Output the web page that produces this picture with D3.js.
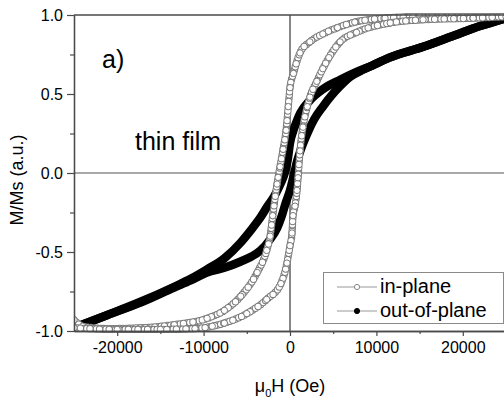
<!DOCTYPE html>
<html><head><meta charset="utf-8">
<script src="https://cdn.jsdelivr.net/npm/d3@7"></script>
<style>body{margin:0;background:#fff}svg text{font-family:Arial,"Liberation Sans",sans-serif;fill:#000}</style>
</head><body><svg id="c" width="504" height="401"></svg>
<script>
// ---- data ----
const ipDescH=[-25000,-24000,-21000,-17300,-13400,-9600,-7600,-5700,-3800,-2700,-2300,-2000,-1500,-1150,-800,-450,-200,0,400,1160,2300,3800,5500,7500,11000,15000,20000,25000];
const ipDescM=[-0.93,-0.97,-0.985,-0.98,-0.96,-0.92,-0.87,-0.78,-0.63,-0.49,-0.40,-0.27,-0.07,0.04,0.15,0.27,0.42,0.54,0.63,0.76,0.83,0.88,0.92,0.955,0.98,0.99,0.99,0.99];
const ipAscH=[-25000,-20000,-15000,-11000,-9000,-7600,-5000,-2700,-1050,-350,0,230,350,580,810,930,1160,1500,2000,2300,3100,3800,4500,5800,7700,11600,15400,21200,25000];
const ipAscM=[-0.98,-0.99,-0.99,-0.985,-0.97,-0.95,-0.89,-0.80,-0.70,-0.57,-0.46,-0.38,-0.27,-0.21,-0.11,-0.03,0.14,0.29,0.42,0.48,0.58,0.66,0.73,0.83,0.89,0.95,0.97,0.98,0.99];
const oopDescH=[-25000,-21200,-17300,-13400,-11500,-9600,-7600,-5700,-4500,-3400,-2600,-1850,-1200,-800,-500,-250,0,400,800,1200,2300,3800,5800,7700,9500,11500,15500,19000,22000,25000];
const oopDescM=[-0.98,-0.90,-0.815,-0.72,-0.67,-0.61,-0.54,-0.44,-0.36,-0.28,-0.21,-0.15,-0.08,-0.03,0.02,0.09,0.19,0.27,0.33,0.38,0.46,0.53,0.59,0.64,0.68,0.73,0.80,0.87,0.93,0.98];
const oopAscH=[-25000,-21200,-17300,-13400,-11500,-9600,-7600,-5700,-4500,-3400,-2300,-1500,-1000,-500,0,500,800,1200,2000,2800,3800,4800,5800,7000,8500,9500,11500,15500,19000,22000,25000];
const oopAscM=[-0.98,-0.90,-0.82,-0.725,-0.68,-0.63,-0.60,-0.56,-0.53,-0.49,-0.42,-0.35,-0.28,-0.19,-0.11,0.0,0.07,0.14,0.25,0.34,0.42,0.49,0.55,0.61,0.655,0.68,0.73,0.80,0.87,0.93,0.98];
const xMajorTicks=[-20000,-10000,0,10000,20000];
const xMinorTicks=[-15000,-5000,5000,15000];
const yMajorTicks=[-1.0,-0.5,0.0,0.5,1.0];
const yMinorTicks=[-0.75,-0.25,0.25,0.75];
const legendLabels=["in-plane","out-of-plane"];

const svg=d3.select("#c");
const x=d3.scaleLinear().domain([-25000,25000]).range([74,506]);
const y=d3.scaleLinear().domain([-1,1]).range([331,15]);
const axisCol="#4a4a4a";

svg.append("defs").append("clipPath").attr("id","clip")
  .append("rect").attr("x",74).attr("y",8).attr("width",440).attr("height",330);

// zero lines
svg.append("line").attr("x1",74).attr("x2",506).attr("y1",y(0)).attr("y2",y(0)).attr("stroke","#555").attr("stroke-width",1.2);
svg.append("line").attr("x1",x(0)).attr("x2",x(0)).attr("y1",15).attr("y2",331).attr("stroke","#111").attr("stroke-width",1);

const zip=(H,M)=>H.map((h,i)=>({h:h,m:M[i]}));
const line=d3.line().x(d=>x(d.h)).y(d=>y(d.m)).curve(d3.curveMonotoneX);
const plot=svg.append("g").attr("clip-path","url(#clip)");

// out-of-plane: dense filled markers -> thick black band
[zip(oopDescH,oopDescM),zip(oopAscH,oopAscM)].forEach(b=>{
  plot.append("path").attr("d",line(b)).attr("fill","none").attr("stroke","#000")
    .attr("stroke-width",8.5).attr("stroke-linecap","round").attr("stroke-linejoin","round");
});
// in-plane: dense open circles drawn along the branch
const sp=3.2, K=3;
[zip(ipDescH,ipDescM),zip(ipAscH,ipAscM)].forEach(b=>{
  const d=line(b);
  for(let k=0;k<K;k++){
    const da="0 "+(sp*K);
    plot.append("path").attr("d",d).attr("fill","none").attr("stroke","#7a7a7a")
      .attr("stroke-width",7.4).attr("stroke-linecap","round").attr("stroke-dasharray",da).attr("stroke-dashoffset",-k*sp);
    plot.append("path").attr("d",d).attr("fill","none").attr("stroke","#fff")
      .attr("stroke-width",5.4).attr("stroke-linecap","round").attr("stroke-dasharray",da).attr("stroke-dashoffset",-k*sp);
  }
  plot.selectAll(null).data(b).enter().append("circle").attr("cx",d=>x(d.h)).attr("cy",d=>y(d.m))
    .attr("r",3.2).attr("fill","#fff").attr("stroke","#7a7a7a").attr("stroke-width",1);
});

// frame: top border
svg.append("line").attr("x1",74).attr("x2",506).attr("y1",15).attr("y2",15).attr("stroke",axisCol).attr("stroke-width",1.3);

// axes
function styleAxis(g){g.select(".domain").attr("stroke",axisCol).attr("stroke-width",1.3);g.selectAll(".tick line").attr("stroke",axisCol).attr("stroke-width",1.2);}
const gx=svg.append("g").attr("transform","translate(0,331)")
  .call(d3.axisBottom(x).tickValues(xMajorTicks).tickSize(5).tickPadding(6).tickFormat(d3.format("d")).tickSizeOuter(0));
styleAxis(gx);
gx.selectAll("text").attr("font-size",16).attr("fill","#000").text(d=>String(d).replace("\u2212","-"));
const gxm=svg.append("g").attr("transform","translate(0,331)")
  .call(d3.axisBottom(x).tickValues(xMinorTicks).tickSize(3).tickFormat("").tickSizeOuter(0));
styleAxis(gxm);
const gy=svg.append("g").attr("transform","translate(74,0)")
  .call(d3.axisLeft(y).tickValues(yMajorTicks).tickSize(7).tickPadding(4).tickFormat(d3.format(".1f")).tickSizeOuter(0));
styleAxis(gy);
gy.selectAll("text").attr("font-size",16).attr("fill","#000").text(d=>d3.format(".1f")(d).replace("\u2212","-"));
const gym=svg.append("g").attr("transform","translate(74,0)")
  .call(d3.axisLeft(y).tickValues(yMinorTicks).tickSize(4).tickFormat("").tickSizeOuter(0));
styleAxis(gym);

// axis titles
const xt=svg.append("text").attr("x",290).attr("y",392).attr("text-anchor","middle").attr("font-size",18);
xt.append("tspan").text("\u03bc");
xt.append("tspan").attr("font-size",11).attr("dy",5).text("0");
xt.append("tspan").attr("dy",-5).text("H (Oe)");
svg.append("text").attr("transform","translate(23,180) rotate(-90)").attr("text-anchor","middle").attr("font-size",18).text("M/Ms (a.u.)");

// annotations
svg.append("text").attr("x",102).attr("y",68).attr("font-size",25).text("a)");
svg.append("text").attr("x",135).attr("y",150).attr("font-size",25).text("thin film");

// legend
const lg=svg.append("g");
lg.append("rect").attr("x",323.5).attr("y",272.5).attr("width",180).attr("height",51).attr("fill","#fff").attr("stroke","#8a8a8a").attr("stroke-width",1);
legendLabels.forEach((t,i)=>{
  const yy=287+i*24;
  lg.append("line").attr("x1",337).attr("x2",377).attr("y1",yy).attr("y2",yy).attr("stroke","#999").attr("stroke-width",1);
  lg.append("circle").attr("cx",357).attr("cy",yy).attr("r",2.6)
    .attr("fill",i===0?"#fff":"#000").attr("stroke",i===0?"#888":"#000").attr("stroke-width",1);
  lg.append("text").attr("x",380).attr("y",yy+6).attr("font-size",20).text(t);
});
</script></body></html>
